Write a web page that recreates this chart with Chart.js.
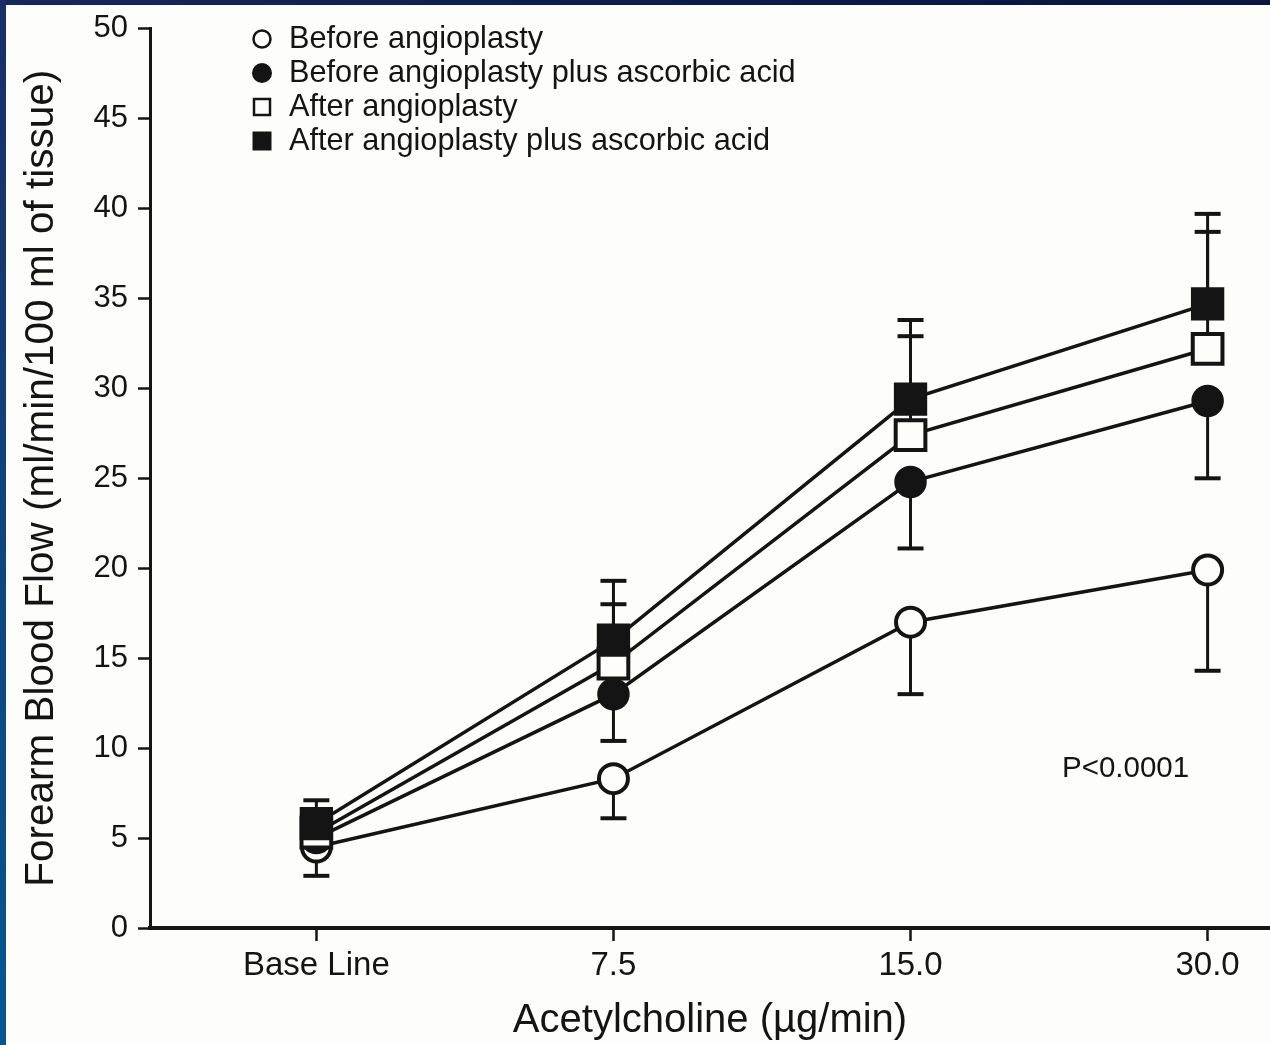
<!DOCTYPE html>
<html>
<head>
<meta charset="utf-8">
<script src="https://cdn.jsdelivr.net/npm/chart.js@4/dist/chart.umd.min.js"></script>
<style>
  html, body { margin: 0; padding: 0; background: #fdfdfc; }
  #wrap { position: relative; width: 1270px; height: 1045px; overflow: hidden; background: #fdfdfc; }
  #topbar { position: absolute; left: 0; top: 0; width: 1270px; height: 5px; background: linear-gradient(to right, #16275a, #0c1a48 60%, #0a1640); }
  #leftbar { position: absolute; left: 0; top: 0; width: 6px; height: 1045px; background: linear-gradient(to bottom, #1a2d66, #12427a 45%, #07578f); }
  canvas { position: absolute; left: 0; top: 0; }
</style>
</head>
<body>
<div id="wrap">
  <canvas id="c" width="1270" height="1045"></canvas>
  <div id="topbar"></div>
  <div id="leftbar"></div>
</div>
<script>
// ---- data ----
const categories = ['Base Line', '7.5', '15.0', '30.0'];
const seriesNames = [
  'Before angioplasty',
  'Before angioplasty plus ascorbic acid',
  'After angioplasty',
  'After angioplasty plus ascorbic acid'
];
const beforeMean   = [4.5, 8.3, 17.0, 19.9];
const beforeLow    = [2.9, 6.1, 13.0, 14.3];
const beforeAAMean = [5.0, 13.0, 24.8, 29.3];
const beforeAALow  = [null, 10.4, 21.1, 25.0];
const afterMean    = [5.3, 14.7, 27.4, 32.2];
const afterHigh    = [null, 18.0, 32.9, 38.7];
const afterAAMean  = [5.8, 16.0, 29.4, 34.7];
const afterAAHigh  = [7.1, 19.3, 33.8, 39.7];
const yMin = 0, yMax = 50, yStep = 5;
const xTitle = 'Acetylcholine (\u00B5g/min)';
const yTitle = 'Forearm Blood Flow (ml/min/100 ml of tissue)';
const pText = 'P<0.0001';

const INK = '#141414';
const PAPER = '#fdfdfc';
const FONT = "'Liberation Sans', Arial, Helvetica, sans-serif";

function pts(arr) { return arr.map((v, i) => ({ x: i, y: v })); }

function ds(label, mean, errLow, errHigh, style, filled, order) {
  const isRect = style === 'rect';
  return {
    label: label,
    data: pts(mean),
    errLow: errLow,
    errHigh: errHigh,
    borderColor: INK,
    borderWidth: 3.5,
    pointStyle: style,
    pointRadius: isRect ? (filled ? 22.5 : 21) : (filled ? 15.5 : 14.5),
    pointBorderWidth: filled ? 1.5 : 4,
    pointBackgroundColor: filled ? INK : PAPER,
    pointBorderColor: INK,
    pointHoverRadius: 0,
    fill: false,
    tension: 0,
    clip: false,
    order: order
  };
}

const datasets = [
  ds(seriesNames[0], beforeMean, beforeLow, null, 'circle', false, 3),
  ds(seriesNames[1], beforeAAMean, beforeAALow, null, 'circle', true, 2),
  ds(seriesNames[2], afterMean, null, afterHigh, 'rect', false, 1),
  ds(seriesNames[3], afterAAMean, null, afterAAHigh, 'rect', true, 0)
];

const errorBars = {
  id: 'errorBars',
  beforeDatasetsDraw(chart) {
    const ctx = chart.ctx;
    const xs = chart.scales.x, ys = chart.scales.y;
    ctx.save();
    ctx.strokeStyle = INK;
    chart.data.datasets.forEach(d => {
      d.data.forEach((p, i) => {
        const x = xs.getPixelForValue(p.x);
        const y0 = ys.getPixelForValue(p.y);
        [d.errLow, d.errHigh].forEach(arr => {
          if (!arr || arr[i] == null) return;
          const y1 = ys.getPixelForValue(arr[i]);
          ctx.lineWidth = 3;
          ctx.beginPath(); ctx.moveTo(x, y0); ctx.lineTo(x, y1); ctx.stroke();
          ctx.lineWidth = 4;
          ctx.beginPath(); ctx.moveTo(x - 13, y1); ctx.lineTo(x + 13, y1); ctx.stroke();
        });
      });
    });
    ctx.restore();
  }
};

const legendAndNote = {
  id: 'legendAndNote',
  afterDraw(chart) {
    const ctx = chart.ctx;
    ctx.save();
    const lx = 262, tx = 289, y0 = 39, dy = 34;
    ctx.font = '30.7px ' + FONT;
    ctx.textBaseline = 'middle';
    ctx.textAlign = 'left';
    chart.data.datasets.forEach((d, i) => {
      const y = y0 + i * dy;
      ctx.fillStyle = d.pointBackgroundColor;
      ctx.strokeStyle = INK;
      ctx.lineWidth = 2.5;
      if (d.pointStyle === 'circle') {
        const r = d.pointBackgroundColor === INK ? 10 : 8.5;
        ctx.beginPath(); ctx.arc(lx, y, r, 0, Math.PI * 2);
        ctx.fill(); if (d.pointBackgroundColor !== INK) ctx.stroke();
      } else {
        const s = d.pointBackgroundColor === INK ? 19 : 16;
        ctx.beginPath(); ctx.rect(lx - s / 2, y - s / 2, s, s);
        ctx.fill(); if (d.pointBackgroundColor !== INK) ctx.stroke();
      }
      ctx.fillStyle = INK;
      ctx.fillText(d.label, tx, y + 1);
    });
    ctx.font = '29.5px ' + FONT;
    ctx.fillText(pText, 1062, 769);
    ctx.restore();
  }
};

new Chart(document.getElementById('c'), {
  type: 'line',
  data: { datasets: datasets },
  plugins: [errorBars, legendAndNote],
  options: {
    responsive: false,
    animation: false,
    devicePixelRatio: 1,
    layout: { autoPadding: false, padding: { top: 27, left: 0, right: 0, bottom: 0 } },
    plugins: { legend: { display: false }, tooltip: { enabled: false } },
    events: [],
    scales: {
      x: {
        type: 'linear',
        min: -0.56,
        max: 3.21,
        afterBuildTicks(scale) { scale.ticks = categories.map((c, i) => ({ value: i })); },
        afterFit(scale) { scale.height = 117; scale.paddingLeft = 0; scale.paddingRight = 0; },
        ticks: {
          callback: (v) => categories[v] !== undefined ? categories[v] : '',
          color: INK,
          font: { family: FONT, size: 33 },
          padding: 5,
          maxRotation: 0,
          autoSkip: false
        },
        grid: {
          drawOnChartArea: false,
          drawTicks: true,
          tickLength: 13,
          tickWidth: 2.5,
          tickColor: INK
        },
        border: { display: true, color: INK, width: 4 },
        title: {
          display: true,
          text: xTitle,
          color: INK,
          font: { family: FONT, size: 40 },
          padding: { top: 0, bottom: 0 }
        }
      },
      y: {
        min: yMin,
        max: yMax,
        afterFit(scale) { scale.width = 150; },
        ticks: {
          stepSize: yStep,
          color: INK,
          font: { family: FONT, size: 31 },
          padding: 10
        },
        grid: {
          drawOnChartArea: false,
          drawTicks: true,
          tickLength: 12,
          tickWidth: 2.5,
          tickColor: INK
        },
        border: { display: true, color: INK, width: 3 },
        title: {
          display: true,
          text: yTitle,
          color: INK,
          font: { family: FONT, size: 40.5 },
          padding: { top: 18, bottom: 0 }
        }
      }
    }
  }
});
</script>
</body>
</html>
